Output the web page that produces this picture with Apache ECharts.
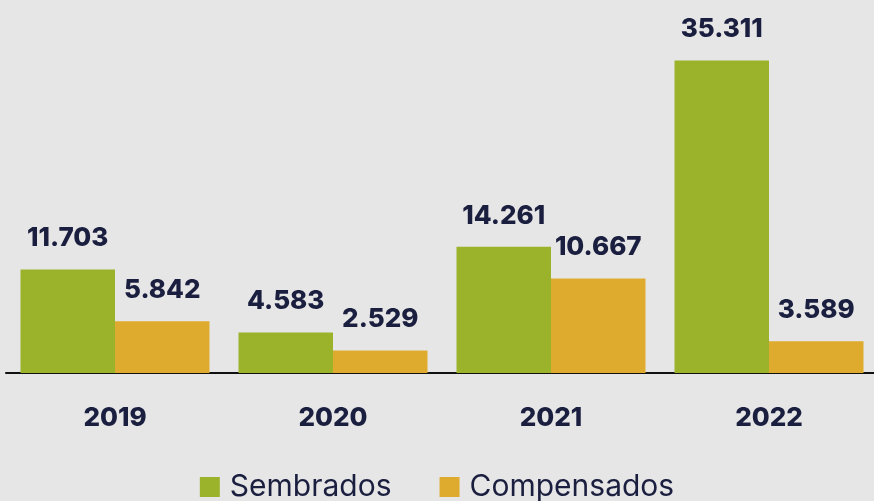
<!DOCTYPE html>
<html>
<head>
<meta charset="utf-8">
<script src="https://cdn.jsdelivr.net/npm/echarts@6/dist/echarts.min.js"></script>
<style>
  html, body { margin: 0; padding: 0; background: #e6e6e6; }
  #chart { width: 874px; height: 501px; }
</style>
</head>
<body>
<div id="chart"></div>
<script>
const years = ['2019', '2020', '2021', '2022'];
const sembrados = [11703, 4583, 14261, 35311];
const compensados = [5842, 2529, 10667, 3589];

function fmt(v) {
    return String(v).replace(/\B(?=(\d{3})+(?!\d))/g, '.');
}

const labelStyle = {
    show: true,
    position: 'top',
    distance: 18,
    color: '#1b1f3f',
    fontSize: 26,
    fontWeight: 800,
    fontFamily: 'Inter',
    formatter: p => fmt(p.value)
};

const myChart = echarts.init(document.getElementById('chart'));
myChart.setOption({
    backgroundColor: '#e6e6e6',
    animation: false,
    grid: { left: 6, width: 872, top: 19, bottom: 128, outerBoundsMode: 'none', containLabel: false },
    legend: {
        bottom: -6,
        left: 'center',
        itemWidth: 20,
        itemHeight: 20,
        itemGap: 48,
        icon: 'rect',
        textStyle: { color: '#1b1f3f', fontSize: 30, fontFamily: 'Inter', padding: [0, 0, 0, 5] },
        data: ['Sembrados', 'Compensados']
    },
    xAxis: {
        type: 'category',
        data: years,
        axisLine: { lineStyle: { color: '#111', width: 2 } },
        axisTick: { show: false },
        axisLabel: { color: '#1b1f3f', fontSize: 26, fontWeight: 800, fontFamily: 'Inter', margin: 32 }
    },
    yAxis: {
        type: 'value',
        min: 0,
        max: 40000,
        show: false,
        splitLine: { show: false }
    },
    series: [
        {
            name: 'Sembrados',
            type: 'bar',
            data: sembrados,
            barGap: '0%',
            barCategoryGap: '13.3%',
            itemStyle: { color: '#9ab32b' },
            label: labelStyle
        },
        {
            name: 'Compensados',
            type: 'bar',
            data: compensados,
            itemStyle: { color: '#dfab2e' },
            label: labelStyle
        }
    ]
});
</script>
</body>
</html>
